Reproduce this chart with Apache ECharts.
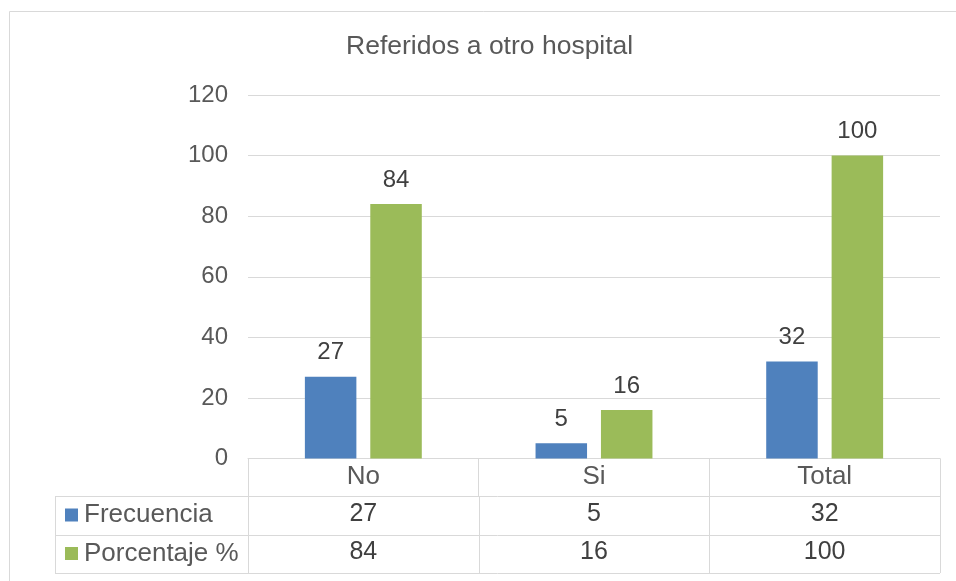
<!DOCTYPE html>
<html>
<head>
<meta charset="utf-8">
<script src="https://cdn.jsdelivr.net/npm/echarts@6/dist/echarts.min.js"></script>
<style>
html,body{margin:0;padding:0;background:#fff;}
#main{width:956px;height:581px;}
</style>
</head>
<body>
<div id="main"></div>
<script>
var categorias = ['No', 'Si', 'Total'];
var frecuencia = [27, 5, 32];
var porcentaje = [84, 16, 100];
var nombres = ['Frecuencia', 'Porcentaje %'];
var colores = ['#4F81BD', '#9BBB59'];
var titulo = 'Referidos a otro hospital';

var fuente = '"Liberation Sans", Arial, sans-serif';
var myChart = echarts.init(document.getElementById('main'));

var option = {
	animation: false,
	color: colores,
	title: {
		text: titulo,
		left: 346,
		top: 33,
		padding: 0,
		textStyle: {fontFamily: fuente, fontSize: 26.5, fontWeight: 'normal', color: '#595959'}
	},
	legend: {
		data: nombres,
		orient: 'vertical',
		left: 65,
		top: 502,
		padding: 0,
		itemWidth: 13,
		itemHeight: 13,
		itemGap: 12.5,
		icon: 'rect',
		selectedMode: false,
		textStyle: {fontFamily: fuente, fontSize: 26, color: '#595959', padding: [0, 0, 0, 1]}
	},
	grid: {
		left: 248,
		right: 16,
		top: 95,
		bottom: 122.5
	},
	xAxis: {
		type: 'category',
		data: categorias,
		axisLine: {lineStyle: {color: '#D9D9D9', width: 1}},
		axisTick: {show: true, length: 38, lineStyle: {color: '#D9D9D9', width: 1}},
		axisLabel: {margin: 5, fontFamily: fuente, fontSize: 26, color: '#595959'}
	},
	yAxis: {
		type: 'value',
		min: 0,
		max: 120,
		interval: 20,
		axisLine: {show: false},
		axisTick: {show: false},
		axisLabel: {margin: 20, fontFamily: fuente, fontSize: 24, color: '#595959'},
		splitLine: {lineStyle: {color: '#D9D9D9', width: 1}}
	},
	series: [
		{
			name: nombres[0],
			type: 'bar',
			data: frecuencia,
			barWidth: 51.5,
			barGap: '27%',
			label: {show: true, position: 'top', distance: 12, fontFamily: fuente, fontSize: 24, color: '#404040'}
		},
		{
			name: nombres[1],
			type: 'bar',
			data: porcentaje,
			barWidth: 51.5,
			barGap: '27%',
			label: {show: true, position: 'top', distance: 12, fontFamily: fuente, fontSize: 24, color: '#404040'}
		}
	]
};
myChart.setOption(option);

// tabla de datos debajo del eje
var filas = [frecuencia, porcentaje];
var filaY = [514, 552.5];
var lineas = [496, 535, 573];
var borde = '#D9D9D9';
var g = [];
// marco exterior
g.push({type: 'rect', shape: {x: 9.5, y: 11.5, width: 980, height: 620}, style: {fill: null, stroke: borde, lineWidth: 1}, silent: true, z: 0});
var x0 = myChart.convertToPixel({xAxisIndex: 0}, 0);
var x1 = myChart.convertToPixel({xAxisIndex: 0}, 1);
var banda = x1 - x0;
var izq = x0 - banda / 2;
var der = izq + banda * categorias.length;
for (var k = 0; k < lineas.length; k++) {
	g.push({type: 'line', shape: {x1: 55, y1: lineas[k] + 0.5, x2: der, y2: lineas[k] + 0.5}, style: {stroke: borde, lineWidth: 1}, silent: true});
}
g.push({type: 'line', shape: {x1: 55.5, y1: lineas[0], x2: 55.5, y2: lineas[2]}, style: {stroke: borde, lineWidth: 1}, silent: true});
for (var c = 0; c <= categorias.length; c++) {
	var xc = Math.round(izq + banda * c) + 0.5;
	g.push({type: 'line', shape: {x1: xc, y1: lineas[0], x2: xc, y2: lineas[2]}, style: {stroke: borde, lineWidth: 1}, silent: true});
}
for (var r = 0; r < filas.length; r++) {
	for (var i = 0; i < categorias.length; i++) {
		var cx = myChart.convertToPixel({xAxisIndex: 0}, i);
		g.push({
			type: 'text',
			silent: true,
			style: {
				text: String(filas[r][i]),
				x: cx,
				y: filaY[r],
				fill: '#404040',
				font: '25px ' + fuente,
				textAlign: 'center',
				textVerticalAlign: 'middle'
			}
		});
	}
}
myChart.setOption({graphic: g});
</script>
</body>
</html>
